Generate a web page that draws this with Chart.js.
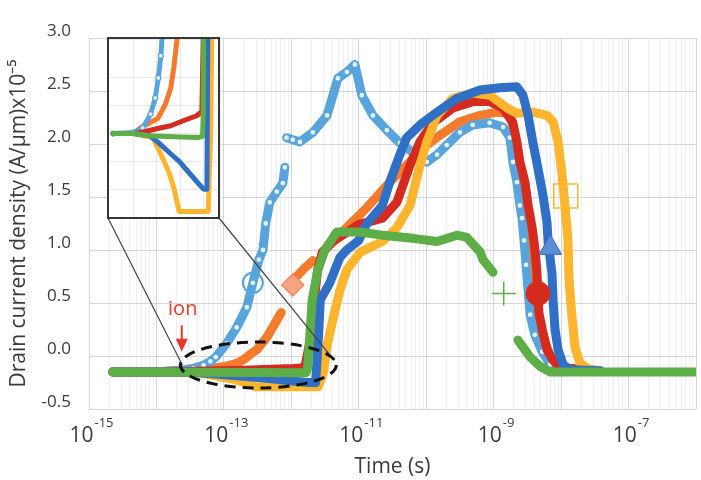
<!DOCTYPE html>
<html>
<head>
<meta charset="utf-8">
<script src="https://cdn.jsdelivr.net/npm/chart.js"></script>
<style>
  body { margin: 0; background: #fff; }
  .wrap { position: relative; width: 701px; height: 480px; }
  #main { position: absolute; left: 0; top: 0; }
  .inset {
    position: absolute; left: 107px; top: 37px; width: 113px; height: 182px;
    border: 2px solid #363636; box-sizing: border-box; background: #fff;
  }
  .inset canvas { display: block; }
</style>
</head>
<body>
<div class="wrap">
  <canvas id="main" width="701" height="480"></canvas>
  <div class="inset"><canvas id="zoom" width="109" height="178"></canvas></div>
</div>

<script>
// time (s) / drain current density (A/um x1e-5)
const lbT = [2.24e-15, 1e-14, 2.0e-14, 3.55e-14, 5.01e-14, 6.31e-14, 7.59e-14, 1.10e-13, 1.55e-13, 2.19e-13, 2.69e-13, 3.31e-13, 3.80e-13, 4.17e-13, 4.79e-13, 6.10e-13, 7.48e-13, 8.0e-13, 8.2e-13, 8.5e-13, 1.05e-12, 1.34e-12, 2.09e-12, 3.39e-12, 4.9e-12, 6.67e-12, 8.77e-12, 1.11e-11, 1.62e-11, 2.61e-11, 4.07e-11, 6.31e-11, 1.02e-10, 1.45e-10, 2.02e-10, 3.16e-10, 4.9e-10, 8.7e-10, 1.38e-9, 1.74e-9, 1.93e-9, 2.21e-9, 2.45e-9, 2.63e-9, 2.82e-9, 3.02e-9, 3.24e-9, 3.47e-9, 4.07e-9, 5.25e-9, 6.86e-9, 9.66e-9, 3.8e-8];
const lbI = [-0.15, -0.148, -0.14, -0.115, -0.086, -0.05, -0.01, 0.12, 0.27, 0.46, 0.69, 0.91, 1.0, 1.25, 1.45, 1.55, 1.63, 1.78, null, 2.06, 2.04, 2.02, 2.11, 2.27, 2.62, 2.68, 2.75, 2.46, 2.27, 2.13, 2.01, 1.92, 1.83, 1.90, 1.99, 2.11, 2.18, 2.20, 2.16, 2.06, 1.83, 1.64, 1.42, 1.30, 1.09, 0.86, 0.62, 0.39, 0.2, 0.04, -0.08, -0.13, -0.14];

const orT = [2.24e-15, 1e-14, 1.74e-14, 6.03e-14, 1.07e-13, 1.58e-13, 2.0e-13, 2.51e-13, 3.09e-13, 4.37e-13, 5.75e-13, 7.08e-13, 9e-13, 1.2e-12, 1.58e-12, 2.09e-12, 2.5e-12, 2.93e-12, 6.6e-12, 1.32e-11, 2.88e-11, 5.13e-11, 8.9e-11, 1.58e-10, 3.16e-10, 6.31e-10, 1.12e-9, 1.74e-9, 2.07e-9, 2.45e-9, 2.91e-9, 3.47e-9, 4.07e-9, 5.25e-9, 7.33e-9, 9.66e-9, 3.8e-8];
const orI = [-0.15, -0.15, -0.139, -0.123, -0.097, -0.068, -0.03, 0.02, 0.06, 0.18, 0.31, 0.41, null, 0.75, 0.83, 0.9, null, 0.98, 1.21, 1.40, 1.64, 1.8, 1.96, 2.08, 2.21, 2.27, 2.30, 2.29, 2.08, 1.75, 1.38, 0.91, 0.53, 0.2, -0.04, -0.11, -0.14];

const rdT = [2.24e-15, 1e-14, 1.74e-14, 6.03e-14, 1.58e-13, 3.98e-13, 1.07e-12, 1.58e-12, 1.91e-12, 2.19e-12, 2.45e-12, 2.88e-12, 4.12e-12, 1.0e-11, 2.24e-11, 3.67e-11, 5.75e-11, 8.07e-11, 1.26e-10, 2.49e-10, 4.9e-10, 8.81e-10, 1.37e-9, 1.93e-9, 2.21e-9, 2.45e-9, 2.91e-9, 3.24e-9, 3.72e-9, 4.07e-9, 4.37e-9, 4.54e-9, 4.68e-9, 5.25e-9, 6.17e-9, 7.59e-9, 9.66e-9, 3.8e-8];
const rdI = [-0.15, -0.15, -0.148, -0.141, -0.136, -0.127, -0.118, -0.11, 0.15, 0.53, 0.81, 0.98, 1.08, 1.24, 1.30, 1.45, 1.8, 2.02, 2.2, 2.34, 2.40, 2.40, 2.34, 2.2, 2.02, 1.83, 1.64, 1.42, 1.21, 1.02, 0.8, 0.59, 0.41, 0.25, 0.06, -0.04, -0.11, -0.14];

const blT = [2.24e-15, 1e-14, 3.39e-14, 6.92e-14, 1.41e-13, 2.95e-13, 6.03e-13, 1.23e-12, 1.78e-12, 2.29e-12, 2.51e-12, 2.69e-12, 3.72e-12, 5.25e-12, 6.61e-12, 1.0e-11, 1.29e-11, 2.24e-11, 2.88e-11, 4.07e-11, 5.13e-11, 8.07e-11, 1.45e-10, 2.85e-10, 6.31e-10, 1.23e-9, 2.21e-9, 2.72e-9, 3.24e-9, 3.8e-9, 4.54e-9, 5.37e-9, 6.17e-9, 6.46e-9, 7.33e-9, 7.59e-9, 8.13e-9, 9.02e-9, 1.07e-8, 1.35e-8, 3.8e-8];
const blI = [-0.15, -0.15, -0.154, -0.168, -0.184, -0.2, -0.22, -0.24, -0.25, -0.25, 0.15, 0.53, 0.69, 0.93, 1.0, 1.09, 1.24, 1.42, 1.64, 1.9, 2.06, 2.18, 2.30, 2.43, 2.51, 2.53, 2.54, 2.46, 2.27, 2.02, 1.77, 1.52, 1.26, 1.05, 0.78, 0.53, 0.25, 0.06, -0.08, -0.13, -0.14];

const yeT = [2.24e-15, 1e-14, 4.17e-14, 8.51e-14, 1.41e-13, 2.04e-13, 2.51e-13, 2.95e-13, 1.0e-12, 2.51e-12, 3.02e-12, 3.39e-12, 4.12e-12, 5.25e-12, 6.61e-12, 1.05e-11, 2.24e-11, 3.67e-11, 5.75e-11, 8.07e-11, 1.02e-10, 1.45e-10, 2.49e-10, 4.9e-10, 8.81e-10, 1.58e-9, 2.21e-9, 3.8e-9, 6.17e-9, 7.59e-9, 9.02e-9, 1.02e-8, 1.14e-8, 1.26e-8, 1.31e-8, 1.45e-8, 1.61e-8, 1.91e-8, 2.69e-8, 3.8e-8];
const yeI = [-0.15, -0.15, -0.157, -0.193, -0.221, -0.25, -0.274, -0.29, -0.29, -0.29, -0.15, 0.1, 0.34, 0.62, 0.81, 0.98, 1.08, 1.21, 1.42, 1.8, 2.02, 2.27, 2.43, 2.48, 2.46, 2.34, 2.29, 2.30, 2.27, 2.21, 2.02, 1.74, 1.42, 1.11, 0.72, 0.37, 0.08, -0.07, -0.13, -0.14];

const grT = [2.24e-15, 1e-14, 3.39e-14, 3.16e-13, 1.26e-12, 1.66e-12, 1.74e-12, 1.86e-12, 2.04e-12, 2.47e-12, 3.14e-12, 4.73e-12, 1.0e-11, 2.24e-11, 6.31e-11, 1.45e-10, 2.85e-10, 3.98e-10, 6.31e-10, 6.92e-10, 9.77e-10, 1.6e-9, 2.29e-9, 3.47e-9, 4.9e-9, 6.92e-9, 1.0e-6];
const grI = [-0.15, -0.15, -0.154, -0.156, -0.157, -0.155, -0.115, 0.15, 0.53, 0.81, 1.0, 1.17, 1.17, 1.14, 1.11, 1.08, 1.14, 1.12, 0.98, 0.91, 0.79, null, 0.15, -0.01, -0.1, -0.15, -0.15];

// the one big marker each series shows
const bigT = [2.69e-13, 1.05e-12, 4.54e-9, 6.92e-9, 1.17e-8, 1.41e-9];
const bigI = [0.69, 0.67, 0.59, 1.02, 1.51, 0.59];

const xLabelExp = [-15, -13, -11, -9, -7];

const FONT = "'Open Sans', sans-serif";
const TEXT = '#3a3a3a';
const C = {
  lb: '#58a4dc', or: '#f47a2c', rd: '#d52b1e',
  ye: '#fdb52e', bl: '#2f6fc6', gr: '#5dae47'
};

function pts(t, v) {
  return t.map((x, i) => ({ x: x, y: v[i] }));
}

function line(t, v, color, w) {
  return {
    data: pts(t, v), showLine: true, borderColor: color, backgroundColor: color,
    borderWidth: w, pointRadius: 0, borderCapStyle: 'round', borderJoinStyle: 'round'
  };
}

// dataset 0 is drawn on top
function allLines(w, r) {
  const lb = line(lbT, lbI, C.lb, w);
  // light blue series uses open circles
  lb.pointRadius = r;
  lb.pointBackgroundColor = '#e4f0fa';
  lb.pointBorderColor = C.lb;
  lb.pointBorderWidth = 1.2;
  return [
    line(grT, grI, C.gr, w),
    line(blT, blI, C.bl, w),
    line(yeT, yeI, C.ye, w),
    line(rdT, rdI, C.rd, w),
    lb,
    line(orT, orI, C.or, w)
  ];
}

const bigMarks = {
  data: pts(bigT, bigI),
  showLine: false,
  pointStyle: ['circle', 'rectRot', 'circle', 'triangle', 'rect', 'cross'],
  pointRadius: [10, 11, 12, 13, 17, 12],
  pointBackgroundColor: ['rgba(0,0,0,0)', '#f6a584', C.rd, '#5b8ed4', 'rgba(0,0,0,0)', 'rgba(0,0,0,0)'],
  pointBorderColor: [C.lb, '#f08a5a', C.rd, '#3a70c0', C.ye, C.gr],
  pointBorderWidth: [2, 1.5, 1, 1, 1.5, 1.5]
};

const isDecade = v => Math.abs(Math.log10(v) - Math.round(Math.log10(v))) < 1e-6;

// exponent style tick labels: 10 with a raised power
const xLabels = {
  id: 'xLabels',
  afterDraw(chart) {
    const { ctx, scales: { x } } = chart;
    ctx.save();
    ctx.fillStyle = TEXT;
    ctx.textBaseline = 'middle';
    ctx.textAlign = 'left';
    xLabelExp.forEach(e => {
      const px = x.getPixelForValue(Math.pow(10, e));
      ctx.font = '21px ' + FONT;
      const w1 = ctx.measureText('10').width;
      ctx.font = '13px ' + FONT;
      const w2 = ctx.measureText(String(e)).width;
      const left = px - (w1 + w2) / 2 + 2;
      ctx.font = '21px ' + FONT;
      ctx.fillText('10', left, x.top + 27);
      ctx.font = '13px ' + FONT;
      ctx.fillText(String(e), left + w1 + 1, x.top + 14);
    });
    ctx.restore();
  }
};

// ion arrow, dashed ellipse and the lines to the inset
const notes = {
  id: 'notes',
  afterDatasetsDraw(chart) {
    const { ctx, scales: { x, y } } = chart;
    ctx.save();

    const cx = x.getPixelForValue(3.24e-13), cy = y.getPixelForValue(-0.085);
    const rx = 78, ry = 23;

    ctx.strokeStyle = '#444';
    ctx.lineWidth = 1.2;
    ctx.beginPath();
    ctx.moveTo(108, 218);
    ctx.lineTo(cx - rx + 2, cy);
    ctx.moveTo(219, 218);
    ctx.lineTo(cx + rx * Math.cos(0.35), cy - ry * Math.sin(0.35));
    ctx.stroke();

    ctx.strokeStyle = '#111';
    ctx.lineWidth = 3;
    ctx.setLineDash([11, 7]);
    ctx.beginPath();
    ctx.ellipse(cx, cy, rx, ry, 0, 0, Math.PI * 2);
    ctx.stroke();
    ctx.setLineDash([]);

    const ax = x.getPixelForValue(2.37e-14);
    const a0 = y.getPixelForValue(0.29), a1 = y.getPixelForValue(0.04);
    ctx.strokeStyle = '#e8372c';
    ctx.fillStyle = '#e8372c';
    ctx.lineWidth = 2;
    ctx.beginPath();
    ctx.moveTo(ax, a0);
    ctx.lineTo(ax, a1 - 10);
    ctx.stroke();
    ctx.beginPath();
    ctx.moveTo(ax - 6, a1 - 13);
    ctx.lineTo(ax + 6, a1 - 13);
    ctx.lineTo(ax, a1);
    ctx.closePath();
    ctx.fill();

    ctx.font = '20px ' + FONT;
    ctx.textAlign = 'center';
    ctx.textBaseline = 'middle';
    ctx.fillText('ion', ax + 1, y.getPixelForValue(0.44));
    ctx.restore();
  }
};

new Chart(document.getElementById('main'), {
  type: 'scatter',
  data: { datasets: [bigMarks].concat(allLines(9, 3)) },
  options: {
    responsive: false,
    animation: false,
    events: [],
    layout: { padding: { top: 38, right: 5 }, autoPadding: false },
    plugins: { legend: { display: false }, tooltip: { enabled: false } },
    scales: {
      x: {
        type: 'logarithmic',
        min: 1e-15,
        max: 1e-6,
        afterBuildTicks: s => {
          const ticks = [];
          for (let e = -15; e < -6; e++) {
            for (let m = 1; m < 10; m++) ticks.push({ value: m * Math.pow(10, e) });
          }
          ticks.push({ value: 1e-6 });
          s.ticks = ticks;
        },
        afterFit: s => { s.height = 71; },
        ticks: { autoSkip: false, maxRotation: 0, callback: () => '' },
        grid: {
          drawTicks: false,
          color: c => (c.tick && isDecade(c.tick.value)) ? '#d6d6d6' : '#efefef'
        },
        border: { display: false },
        title: {
          display: true, text: 'Time (s)', color: TEXT,
          font: { family: FONT, size: 21 }, padding: { top: 0, bottom: 0 }
        }
      },
      y: {
        min: -0.5,
        max: 3.0,
        afterFit: s => { s.width = 89; },
        ticks: {
          stepSize: 0.5, padding: 18, labelOffset: -7, color: TEXT,
          font: { family: FONT, size: 17 },
          callback: v => v.toFixed(1)
        },
        grid: { drawTicks: false, color: '#d6d6d6' },
        border: { display: false },
        title: {
          display: true, text: 'Drain current density (A/\u03bcm)x10\u207b\u2075', color: TEXT,
          font: { family: FONT, size: 21 }, padding: { top: 6, bottom: 0 }
        }
      }
    }
  },
  plugins: [notes, xLabels]
});

// inset: same curves, zoomed on the baseline around the ion strike
new Chart(document.getElementById('zoom'), {
  type: 'scatter',
  data: { datasets: allLines(5, 2.5) },
  options: {
    responsive: false,
    animation: false,
    events: [],
    layout: { padding: 0, autoPadding: false },
    plugins: { legend: { display: false }, tooltip: { enabled: false } },
    scales: {
      x: {
        type: 'logarithmic',
        min: 1.64e-15,
        max: 5.2e-12,
        afterBuildTicks: s => {
          s.ticks = [-14, -13.25, -12.5, -11.75].map(e => ({ value: Math.pow(10, e) }));
        },
        ticks: { display: false },
        grid: { drawTicks: false, color: '#e8e8e8' },
        border: { display: false }
      },
      y: {
        min: -0.30,
        max: 0.02,
        ticks: { display: false, stepSize: 0.05 },
        grid: { drawTicks: false, color: '#e8e8e8' },
        border: { display: false }
      }
    }
  }
});
</script>
</body>
</html>
